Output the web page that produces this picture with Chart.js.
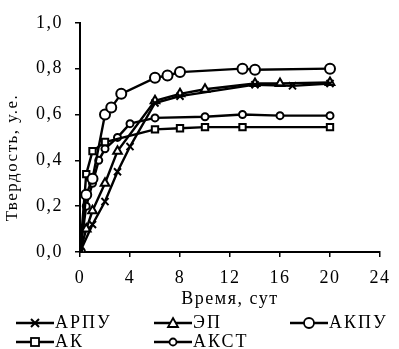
<!DOCTYPE html>
<html><head><meta charset="utf-8">
<script src="https://cdn.jsdelivr.net/npm/chart.js@4.4.0/dist/chart.umd.min.js"></script>
<style>
html,body{margin:0;padding:0;background:#fff;}
#wrap{position:relative;width:399px;height:349px;}
canvas{position:absolute;left:0;top:0;}
.lg{position:absolute;font-family:"Liberation Serif",serif;font-size:18px;letter-spacing:2px;color:#000;display:flex;align-items:center;white-space:nowrap;}
.lg svg{margin-right:1px;}
</style></head><body>
<div id="wrap"><canvas id="c" width="399" height="349"></canvas></div>
<script>
const seriesNames = ['АРПУ','ЭП','АКПУ','АК','АКСТ'];
const xTickLabels = ['0','4','8','12','16','20','24'];
const yTickLabels = ['0,0','0,2','0,4','0,6','0,8','1,0'];
const xTitle = 'Время, сут';
const yTitle = 'Твердость, у.е.';

const arpuX = [0, 1, 2, 3, 4, 6, 8, 14, 17, 20];
const arpuY = [0, 0.12, 0.22, 0.35, 0.46, 0.65, 0.68, 0.73, 0.725, 0.735];
const epX = [0, 0.5, 1, 2, 3, 6, 8, 10, 14, 16, 20];
const epY = [0, 0.10, 0.18, 0.30, 0.44, 0.66, 0.69, 0.71, 0.735, 0.735, 0.74];
const akpuX = [0, 0.5, 1, 2, 2.5, 3.3, 6, 7, 8, 13, 14, 20];
const akpuY = [0, 0.25, 0.32, 0.60, 0.63, 0.69, 0.76, 0.77, 0.785, 0.80, 0.795, 0.80];
const akX = [0, 0.5, 1, 2, 6, 8, 10, 13, 20];
const akY = [0, 0.34, 0.44, 0.48, 0.535, 0.54, 0.545, 0.545, 0.545];
const akstX = [0, 0.5, 1, 1.5, 2, 3, 4, 6, 10, 13, 16, 20];
const akstY = [0, 0.20, 0.30, 0.40, 0.45, 0.50, 0.56, 0.585, 0.59, 0.60, 0.595, 0.595];

const styles = [
  {pointStyle:'crossRot', r:5},
  {pointStyle:'triangle', r:5},
  {pointStyle:'circle', r:5},
  {pointStyle:'rect', r:4.5},
  {pointStyle:'circle', r:3.5}
];
const xs = [arpuX, epX, akpuX, akX, akstX];
const ys = [arpuY, epY, akpuY, akY, akstY];

const datasets = seriesNames.map((n,i)=>({
  label:n,
  data: xs[i].map((x,j)=>({x:x,y:ys[i][j]})),
  borderColor:'#000', backgroundColor:'#fff', borderWidth:2.4,
  pointStyle:styles[i].pointStyle, pointRadius:styles[i].r,
  pointBorderWidth:2, pointBorderColor:'#000', pointBackgroundColor:'#fff',
  tension:0, fill:false
}));

const spacingPlugin = {
  id:'spacing',
  beforeDraw(chart){ chart.ctx.letterSpacing = '1.5px'; }
};

const font = {family:'"Liberation Serif", serif', size:18};
new Chart(document.getElementById('c'), {
  type:'line',
  data:{datasets},
  plugins:[spacingPlugin],
  options:{
    responsive:false, animation:false,
    layout:{padding:{top:22,right:11,bottom:39,left:0}},
    plugins:{legend:{display:false},tooltip:{enabled:false}},
    scales:{
      x:{type:'linear',min:0,max:24,
        ticks:{stepSize:4,color:'#000',font:font,padding:10,maxRotation:0,
          callback:(v,i)=>xTickLabels[i]},
        grid:{display:true,drawOnChartArea:false,drawTicks:true,tickLength:5,color:'#000',lineWidth:1.5},
        border:{display:true,color:'#000',width:2},
        title:{display:true,text:xTitle,color:'#000',font:font,padding:{top:0,bottom:0}},
        afterFit:(s)=>{s.height=58;}
      },
      y:{min:0,max:1,
        ticks:{stepSize:0.2,color:'#000',font:font,padding:12,
          callback:(v,i)=>yTickLabels[i]},
        grid:{display:true,drawOnChartArea:false,drawTicks:true,tickLength:5,color:'#000',lineWidth:1.5},
        border:{display:true,color:'#000',width:2},
        title:{display:true,text:yTitle+'\u00A0\u00A0\u00A0\u00A0\u00A0\u00A0\u00A0',color:'#000',font:{family:'"Liberation Serif", serif', size:17},padding:{top:2,bottom:0}},
        afterFit:(s)=>{s.width=80;}
      }
    }
  }
});

// legend
const legendPos = [[16,312],[154,312],[290,312],[16,331],[154,331]];
const wrap = document.getElementById('wrap');
function markerSvg(i){
  const st = styles[i].pointStyle; const cx=19, cy=9;
  let m='';
  if(st==='crossRot') m=`<path d="M${cx-4} ${cy-4}L${cx+4} ${cy+4}M${cx-4} ${cy+4}L${cx+4} ${cy-4}" stroke="#000" stroke-width="2"/>`;
  else if(st==='triangle') m=`<path d="M${cx} ${cy-5}L${cx+5} ${cy+4}L${cx-5} ${cy+4}Z" fill="#fff" stroke="#000" stroke-width="1.8"/>`;
  else if(st==='rect') m=`<rect x="${cx-4}" y="${cy-4}" width="8" height="8" fill="#fff" stroke="#000" stroke-width="1.8"/>`;
  else m=`<circle cx="${cx}" cy="${cy}" r="${styles[i].r}" fill="#fff" stroke="#000" stroke-width="1.8"/>`;
  return `<svg width="38" height="18"><line x1="0" y1="${cy}" x2="38" y2="${cy}" stroke="#000" stroke-width="2.5"/>${m}</svg>`;
}
seriesNames.forEach((n,i)=>{
  const d=document.createElement('div'); d.className='lg';
  d.style.left=legendPos[i][0]+'px'; d.style.top=legendPos[i][1]+'px';
  d.innerHTML=markerSvg(i)+'<span>'+n+'</span>';
  wrap.appendChild(d);
});
</script>
</body></html>
